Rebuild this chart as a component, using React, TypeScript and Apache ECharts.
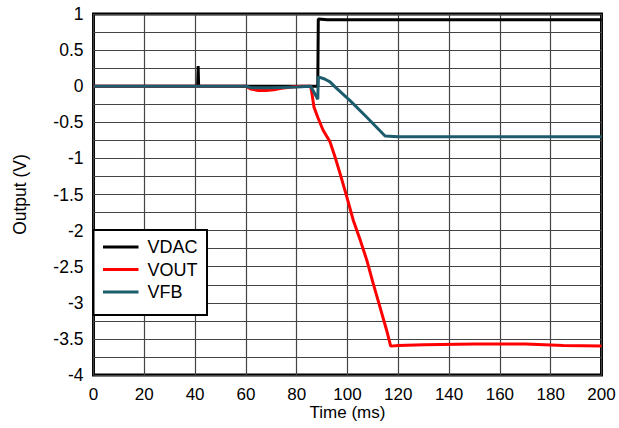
import React, { useEffect, useRef } from "react";
import * as echarts from "echarts";

// Time (ms) and voltage (V) samples
const vdacX = [0, 41.0, 41.2, 41.4, 88.3, 88.5, 92, 120, 160, 200];
const vdacY = [0, 0, 0.28, 0, 0, 0.93, 0.92, 0.92, 0.92, 0.92];

const voutX = [0, 60, 62, 65, 68, 71, 74, 78, 82, 85.5, 86, 86.8, 88.4, 90.4, 93.1, 95.1, 97, 99.7, 102.3, 105, 107.6, 110.1, 112.8, 115.4, 117, 120, 130, 150, 170, 185, 200];
const voutY = [0, 0, -0.04, -0.06, -0.06, -0.05, -0.03, -0.01, 0, 0, -0.1, -0.29, -0.44, -0.61, -0.77, -0.98, -1.2, -1.53, -1.86, -2.13, -2.41, -2.73, -3.06, -3.38, -3.6, -3.59, -3.58, -3.57, -3.57, -3.59, -3.6];

const vfbX = [0, 40, 60, 62, 70, 80, 85.5, 88.3, 88.5, 91, 93.1, 95.1, 101, 107.6, 114.8, 120, 160, 200];
const vfbY = [0, 0, 0, -0.02, -0.02, -0.01, 0, -0.18, 0.13, 0.1, 0.06, -0.01, -0.2, -0.43, -0.69, -0.7, -0.7, -0.7];

const seriesNames = ["VDAC", "VOUT", "VFB"];
const seriesColors = ["#000000", "#ff0000", "#1d5c6c"];

const xMin = 0, xMax = 200, xStep = 20;
const yMin = -4, yMax = 1, yStep = 0.5;

const pairs = (xs: number[], ys: number[]) => xs.map((x, i) => [x, ys[i]]);

export default function App() {
  const ref = useRef<HTMLDivElement>(null);
  useEffect(() => {
    const chart = echarts.init(ref.current!, null, { renderer: "svg" });
    const font = "'Liberation Sans', Arial, sans-serif";
    const gridLine = { show: true, lineStyle: { color: "#444", width: 1.2 } };
    const data = [pairs(vdacX, vdacY), pairs(voutX, voutY), pairs(vfbX, vfbY)];
    chart.setOption({
      animation: false,
      backgroundColor: "#ffffff",
      textStyle: { fontFamily: font },
      grid: {
        left: 93.5,
        right: 17.5,
        top: 14,
        bottom: 53,
        show: true,
        borderColor: "#000",
        borderWidth: 3,
        containLabel: false,
        outerBoundsMode: "none",
      },
      legend: {
        data: seriesNames.map((n) => ({ name: n, icon: "rect" })),
        orient: "vertical",
        left: 93.5,
        top: 230,
        padding: [7, 9.5, 13, 9.5],
        itemGap: 2.5,
        itemWidth: 35.5,
        itemHeight: 3,
        backgroundColor: "#fff",
        borderColor: "#000",
        borderWidth: 2,
        textStyle: { fontSize: 18, lineHeight: 20, color: "#000", fontFamily: font, padding: [0, 0, 0, 4] },
      },
      xAxis: {
        type: "value",
        min: xMin,
        max: xMax,
        interval: xStep,
        name: "Time (ms)",
        nameLocation: "middle",
        nameGap: 30.5,
        nameMoveOverlap: false,
        nameTextStyle: { fontSize: 17, lineHeight: 14, color: "#000", fontFamily: font },
        axisLine: { show: false },
        axisTick: { show: false },
        axisLabel: { fontSize: 17, lineHeight: 14, color: "#000", margin: 12.5, fontFamily: font },
        splitLine: gridLine,
      },
      yAxis: {
        type: "value",
        min: yMin,
        max: yMax,
        interval: yStep,
        name: "Output (V)",
        nameLocation: "middle",
        nameGap: 65,
        nameMoveOverlap: false,
        nameTextStyle: { fontSize: 17.5, color: "#000", fontFamily: font },
        axisLine: { show: false },
        axisTick: { show: false },
        minorTick: { show: false, splitNumber: 2 },
        axisLabel: { fontSize: 17.5, color: "#000", margin: 10, fontFamily: font },
        splitLine: gridLine,
        minorSplitLine: gridLine,
      },
      series: seriesNames.map((name, i) => ({
        name,
        type: "line",
        data: data[i],
        symbol: "none",
        showSymbol: false,
        color: seriesColors[i],
        lineStyle: { color: seriesColors[i], width: 3 },
        z: 2 + i,
      })),
    });
    return () => chart.dispose();
  }, []);
  return (
    <div
      ref={ref}
      style={{ position: "fixed", left: 0, top: 0, width: 619, height: 428 }}
    />
  );
}
